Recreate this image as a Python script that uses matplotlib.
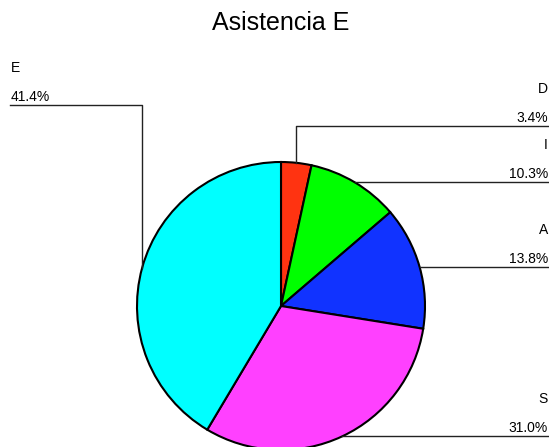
import numpy as np
import matplotlib
matplotlib.use('Agg')
import matplotlib.pyplot as plt

plt.rcParams['font.family'] = ['Liberation Sans', 'DejaVu Sans']

labels = ['D', 'I', 'A', 'S', 'E']
values = [3.4, 10.3, 13.8, 31.0, 41.4]
colors = ['#ff3311', '#00ff00', '#1133ff', '#ff40ff', '#00ffff']

W, H = 549, 447
fig = plt.figure(figsize=(W / 100, H / 100), dpi=100)
ax = fig.add_axes([0, 0, 1, 1])
ax.set_xlim(0, W)
ax.set_ylim(0, H)
ax.axis('off')

cx, cy, r = 281, H - 306, 144
ax.pie(values, colors=colors, startangle=90, counterclock=False,
       center=(cx, cy), radius=r,
       wedgeprops=dict(edgecolor='black', linewidth=1.5))
ax.set_xlim(0, W)
ax.set_ylim(0, H)
ax.set_aspect('equal')

# leader lines: start at the middle of each slice
cum = np.cumsum([0] + values[:-1])
mids = cum + np.array(values) / 2
# y (pixels from top) of the horizontal line for each label; None = at slice
line_y = {'D': 126, 'E': 105}
for lab, v, m in zip(labels, values, mids):
    ang = np.deg2rad(90 - m / 100 * 360)
    px, py = cx + r * np.cos(ang), cy + r * np.sin(ang)
    ly = H - line_y[lab] if lab in line_y else py
    right = px >= cx
    xe = W if right else 10
    ax.plot([px, px, xe], [py, ly, ly], color='#222222', lw=1)
    xt, ha = (548, 'right') if right else (11, 'left')
    ax.text(xt, ly + 4, f'{v:.1f}%', ha=ha, va='baseline', fontsize=10)
    ax.text(xt, ly + 33, lab, ha=ha, va='baseline', fontsize=10)

ax.text(cx, H - 30, 'Asistencia E', ha='center', va='baseline', fontsize=18)

fig.savefig('out.png', dpi=100)
